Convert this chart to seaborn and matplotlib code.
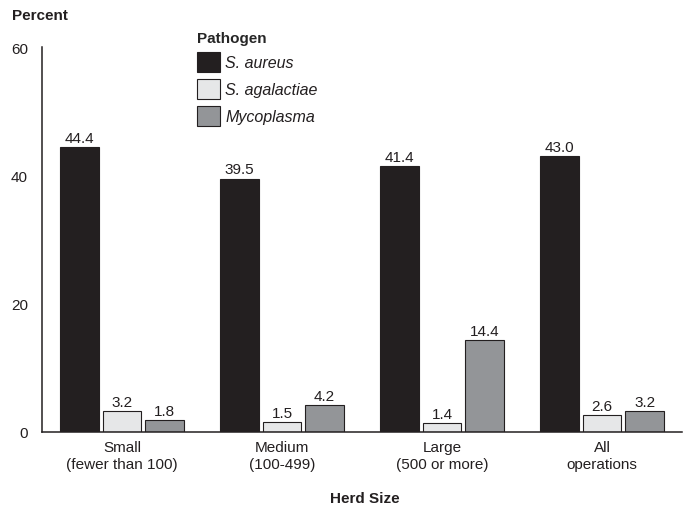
import matplotlib
matplotlib.use("Agg")
import matplotlib.pyplot as plt
import seaborn as sns
import pandas as pd

herd_sizes = ["Small\n(fewer than 100)", "Medium\n(100-499)", "Large\n(500 or more)", "All\noperations"]
pathogens = ["S. aureus", "S. agalactiae", "Mycoplasma"]
s_aureus = [44.4, 39.5, 41.4, 43.0]
s_agalactiae = [3.2, 1.5, 1.4, 2.6]
mycoplasma = [1.8, 4.2, 14.4, 3.2]
colors = ["#231f20", "#e6e7e8", "#939598"]

rows = []
for name, vals in zip(pathogens, [s_aureus, s_agalactiae, mycoplasma]):
    for h, v in zip(herd_sizes, vals):
        rows.append({"Herd Size": h, "Pathogen": name, "Percent": v})
df = pd.DataFrame(rows)

sns.set_theme(style="white")
plt.rcParams['font.family'] = ['Liberation Sans', 'DejaVu Sans']

FS = 11
fig = plt.figure(figsize=(6.86, 5.10), dpi=100)
ax = fig.add_axes([42/686, 77/510, 640/686, 385/510])

sns.barplot(data=df, x="Herd Size", y="Percent", hue="Pathogen", order=herd_sizes,
            hue_order=pathogens, palette=colors, width=0.8, gap=0.1,
            edgecolor="#231f20", linewidth=0.8, ax=ax, errorbar=None, saturation=1)

for cont in ax.containers:
    ax.bar_label(cont, fmt="%.1f", padding=1.5, fontsize=FS, color="#231f20")

ax.set_xlim(-0.5, 3.5)
ax.set_ylim(0, 60)
ax.set_yticks([0, 20, 40, 60])
ax.tick_params(axis="y", length=0, labelsize=FS, colors="#231f20", pad=10)
ax.set_xticks(range(4))
ax.set_xticklabels(herd_sizes, fontsize=FS, color="#231f20")
ax.tick_params(axis="x", which="major", length=0, pad=6)
ax.set_xticks([0.5, 1.5, 2.5, 3.5], minor=True)
ax.tick_params(axis="x", which="minor", direction="in", length=6, width=1, color="#231f20")

for s in ["top", "right"]:
    ax.spines[s].set_visible(False)
for s in ["left", "bottom"]:
    ax.spines[s].set_color("#231f20")
    ax.spines[s].set_linewidth(1.1)

ax.set_xlabel("")
ax.set_ylabel("")
fig.text(12/686, 1 - 16/510, "Percent", fontsize=FS, fontweight="bold", color="#231f20", va="center", ha="left")
fig.text(365/686, 1 - 499/510, "Herd Size", fontsize=FS, fontweight="bold", color="#231f20", va="center", ha="center")

handles, labels = ax.get_legend_handles_labels()
leg = ax.legend(handles, labels, title="Pathogen", loc="upper left",
                bbox_to_anchor=(191/686, 1 - 26/510), bbox_transform=fig.transFigure,
                frameon=False, fontsize=FS, handlelength=1.5, handleheight=1.65,
                handletextpad=0.35, labelspacing=0.45, borderaxespad=0, alignment="left")
leg.get_title().set_fontweight("bold")
leg.get_title().set_fontsize(FS)
for t in leg.get_texts():
    t.set_fontstyle("italic")
    t.set_color("#231f20")
    t.set_fontsize(11.5)

fig.savefig("out.png", dpi=100)
